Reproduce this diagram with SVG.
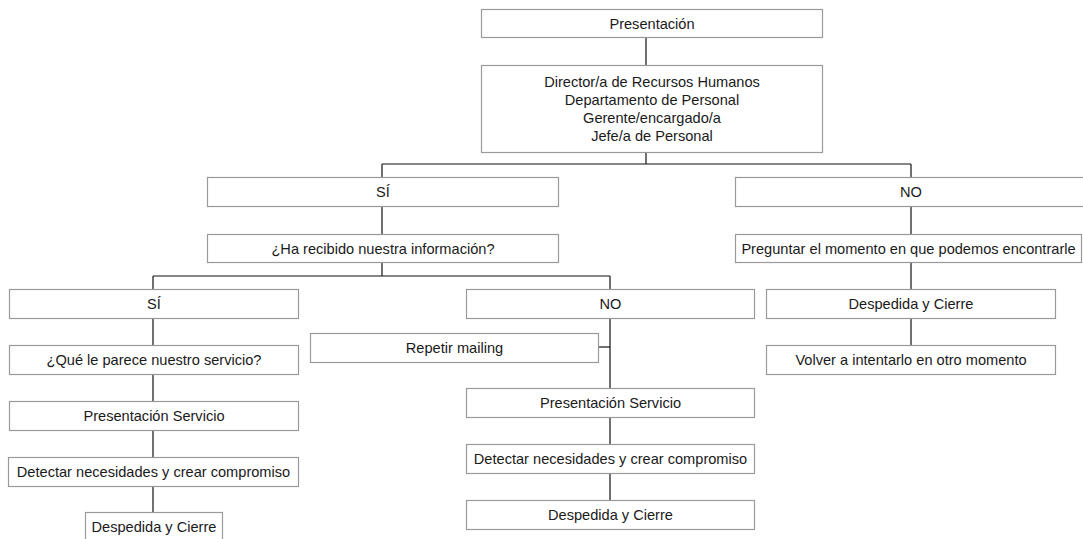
<svg xmlns="http://www.w3.org/2000/svg" width="1083" height="539" viewBox="0 0 1083 539">
<style>
rect{fill:#fff;stroke:#9a9a9a;stroke-width:1.2}
text{font-family:"Liberation Sans",Arial,sans-serif;font-size:14.6px;fill:#1a1a1a;text-anchor:middle}
.c line{stroke:#111;stroke-width:1.2}
</style>
<rect x="0" y="0" width="1083" height="539" style="stroke:none"/>
<g class="c" id="connectors">
<line x1="646" y1="37" x2="646" y2="65"/>
<line x1="646" y1="152" x2="646" y2="164"/>
<line x1="382" y1="164" x2="911" y2="164"/>
<line x1="382" y1="164" x2="382" y2="177"/>
<line x1="911" y1="164" x2="911" y2="177"/>
<line x1="382" y1="206" x2="382" y2="234"/>
<line x1="382" y1="263" x2="382" y2="276"/>
<line x1="153" y1="276" x2="610" y2="276"/>
<line x1="153" y1="276" x2="153" y2="289"/>
<line x1="610" y1="276" x2="610" y2="289"/>
<line x1="153" y1="318" x2="153" y2="345"/>
<line x1="153" y1="374" x2="153" y2="401"/>
<line x1="153" y1="430" x2="153" y2="457"/>
<line x1="153" y1="486" x2="153" y2="512"/>
<line x1="610" y1="318" x2="610" y2="388"/>
<line x1="598" y1="347" x2="610" y2="347"/>
<line x1="610" y1="417" x2="610" y2="444"/>
<line x1="610" y1="473" x2="610" y2="500"/>
<line x1="911" y1="206" x2="911" y2="234"/>
<line x1="911" y1="263" x2="911" y2="289"/>
<line x1="911" y1="318" x2="911" y2="345"/>
</g>
<g id="presentacion"><rect x="481.5" y="9.5" width="341" height="28"/><text x="652" y="28.5">Presentación</text></g>
<g id="director"><rect x="481.5" y="65.5" width="341" height="87"/>
<text x="652" y="86.5">Director/a de Recursos Humanos</text>
<text x="652" y="104.5">Departamento de Personal</text>
<text x="652" y="122.5">Gerente/encargado/a</text>
<text x="652" y="140.5">Jefe/a de Personal</text></g>
<g id="si1"><rect x="207.5" y="177.5" width="351" height="29"/><text x="383" y="197">SÍ</text></g>
<g id="ha-recibido"><rect x="207.5" y="234.5" width="351" height="28"/><text x="383" y="253.5">¿Ha recibido nuestra información?</text></g>
<g id="no1"><rect x="735.5" y="177.5" width="352" height="29"/><text x="911" y="197">NO</text></g>
<g id="preguntar"><rect x="735.5" y="234.5" width="346" height="28"/><text x="908.5" y="253.5">Preguntar el momento en que podemos encontrarle</text></g>
<g id="despedida-r"><rect x="766.5" y="289.5" width="289" height="29"/><text x="911" y="309">Despedida y Cierre</text></g>
<g id="volver"><rect x="766.5" y="345.5" width="289" height="29"/><text x="911" y="365">Volver a intentarlo en otro momento</text></g>
<g id="si2"><rect x="9.5" y="289.5" width="289" height="29"/><text x="154" y="309">SÍ</text></g>
<g id="que-le-parece"><rect x="9.5" y="345.5" width="289" height="29"/><text x="154" y="365">¿Qué le parece nuestro servicio?</text></g>
<g id="pres-serv-l"><rect x="9.5" y="401.5" width="289" height="29"/><text x="154" y="421">Presentación Servicio</text></g>
<g id="detectar-l"><rect x="8.5" y="457.5" width="290" height="29"/><text x="153.5" y="477">Detectar necesidades y crear compromiso</text></g>
<g id="despedida-l"><rect x="85.5" y="512.5" width="137" height="30"/><text x="154" y="532">Despedida y Cierre</text></g>
<g id="no2"><rect x="466.5" y="289.5" width="288" height="29"/><text x="610.5" y="309">NO</text></g>
<g id="repetir"><rect x="310.5" y="333.5" width="288" height="29"/><text x="454.5" y="353">Repetir mailing</text></g>
<g id="pres-serv-m"><rect x="466.5" y="388.5" width="288" height="29"/><text x="610.5" y="408">Presentación Servicio</text></g>
<g id="detectar-m"><rect x="466.5" y="444.5" width="288" height="29"/><text x="610.5" y="464">Detectar necesidades y crear compromiso</text></g>
<g id="despedida-m"><rect x="466.5" y="500.5" width="288" height="29"/><text x="610.5" y="520">Despedida y Cierre</text></g>
</svg>
